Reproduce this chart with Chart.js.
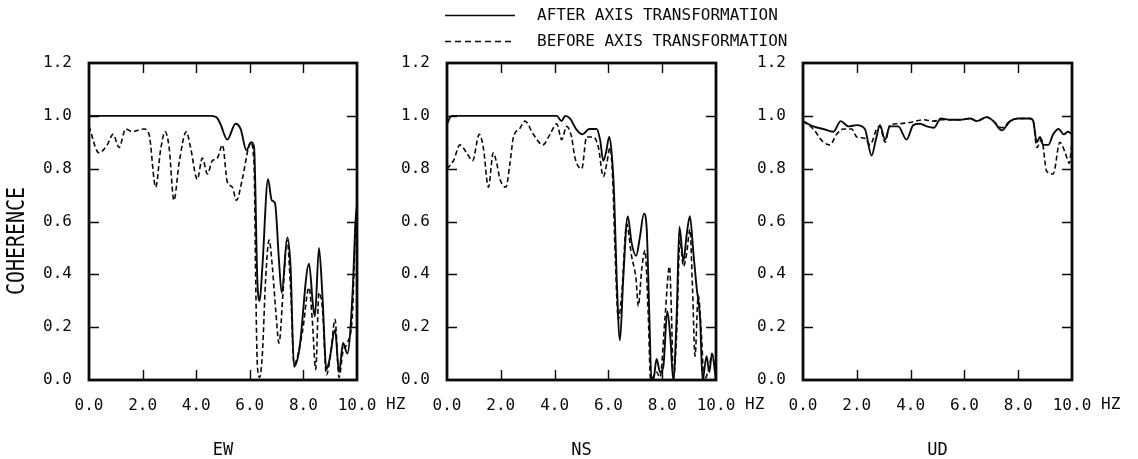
<!DOCTYPE html>
<html>
<head>
<meta charset="utf-8">
<script src="https://cdn.jsdelivr.net/npm/chart.js@4"></script>
<style>
  html, body { margin: 0; padding: 0; background: #fff; }
  #wrap { position: relative; width: 1138px; height: 459px; }
  #wrap canvas { position: absolute; left: 0; top: 0; }
</style>
</head>
<body>
<div id="wrap">
  <canvas id="c1" width="1138" height="459"></canvas>
  <canvas id="c2" width="1138" height="459"></canvas>
  <canvas id="c3" width="1138" height="459"></canvas>
</div>
<script>
// ---------- DATA ----------
const panelLabels = ['EW', 'NS', 'UD'];
const seriesLabels = ['AFTER AXIS TRANSFORMATION', 'BEFORE AXIS TRANSFORMATION'];
const xTickValues = [0, 2, 4, 6, 8, 10];
const yTickValues = [0, 0.2, 0.4, 0.6, 0.8, 1.0, 1.2];
const xUnit = 'HZ';
const yTitle = 'COHERENCE';

// EW
const ewAfterHz = [0, 0.5, 1, 2, 3, 4, 4.5, 4.75, 4.9, 5.16, 5.47, 5.66, 5.87, 6.06, 6.16, 6.28, 6.37, 6.47, 6.68, 6.82, 6.94, 7.09, 7.19, 7.4, 7.52, 7.65, 7.84, 8.21, 8.36, 8.43, 8.58, 8.71, 8.86, 8.98, 9.18, 9.33, 9.48, 9.64, 9.83, 9.95, 10];
const ewAfter   = [1, 1, 1, 1, 1, 1, 1, 0.995, 0.97, 0.91, 0.97, 0.95, 0.87, 0.90, 0.88, 0.38, 0.30, 0.43, 0.76, 0.68, 0.67, 0.45, 0.33, 0.54, 0.43, 0.05, 0.11, 0.44, 0.28, 0.24, 0.50, 0.32, 0.04, 0.08, 0.19, 0.03, 0.14, 0.10, 0.32, 0.61, 0.66];
const ewBeforeHz = [0, 0.37, 0.68, 0.9, 1.12, 1.37, 1.62, 2.05, 2.24, 2.49, 2.67, 2.84, 2.99, 3.17, 3.36, 3.63, 3.79, 4.04, 4.23, 4.42, 4.6, 4.79, 4.98, 5.16, 5.35, 5.5, 5.72, 5.95, 6.03, 6.16, 6.22, 6.28, 6.37, 6.47, 6.59, 6.72, 6.84, 6.97, 7.09, 7.24, 7.39, 7.52, 7.65, 7.96, 8.21, 8.33, 8.46, 8.58, 8.71, 8.86, 9.02, 9.18, 9.33, 9.48, 9.64, 9.83, 9.95, 10];
const ewBefore   = [0.96, 0.86, 0.89, 0.93, 0.88, 0.95, 0.94, 0.95, 0.93, 0.73, 0.87, 0.94, 0.88, 0.68, 0.82, 0.94, 0.88, 0.76, 0.84, 0.78, 0.83, 0.84, 0.89, 0.75, 0.73, 0.68, 0.76, 0.88, 0.90, 0.81, 0.38, 0.06, 0.01, 0.10, 0.38, 0.53, 0.43, 0.26, 0.14, 0.33, 0.53, 0.35, 0.06, 0.18, 0.35, 0.23, 0.04, 0.33, 0.27, 0.02, 0.10, 0.23, 0.01, 0.11, 0.14, 0.25, 0.59, 0.62];

// NS
const nsAfterHz = [0, 0.17, 1, 2, 3, 4.08, 4.26, 4.39, 4.57, 4.8, 5.04, 5.29, 5.56, 5.69, 5.81, 5.91, 6.03, 6.12, 6.21, 6.31, 6.43, 6.55, 6.72, 6.86, 7.03, 7.17, 7.32, 7.42, 7.52, 7.6, 7.67, 7.79, 7.92, 8.04, 8.19, 8.31, 8.41, 8.54, 8.64, 8.79, 8.91, 9.03, 9.16, 9.28, 9.41, 9.5, 9.65, 9.75, 9.85, 10];
const nsAfter   = [0.97, 1, 1, 1, 1, 1, 0.98, 1, 0.99, 0.95, 0.93, 0.95, 0.95, 0.91, 0.83, 0.86, 0.92, 0.86, 0.71, 0.38, 0.15, 0.38, 0.62, 0.52, 0.47, 0.54, 0.63, 0.58, 0.25, 0.0, 0.0, 0.08, 0.03, 0.05, 0.26, 0.15, 0.0, 0.25, 0.58, 0.45, 0.55, 0.62, 0.48, 0.35, 0.23, 0.0, 0.09, 0.03, 0.10, 0.0];
const nsBeforeHz = [0, 0.24, 0.48, 0.73, 0.95, 1.2, 1.35, 1.54, 1.72, 1.85, 1.97, 2.19, 2.34, 2.47, 2.69, 2.9, 3.21, 3.56, 3.83, 4.08, 4.26, 4.45, 4.63, 4.76, 5.01, 5.19, 5.44, 5.63, 5.81, 5.94, 6.06, 6.16, 6.25, 6.37, 6.49, 6.68, 6.86, 7.03, 7.11, 7.24, 7.36, 7.48, 7.57, 7.79, 7.92, 8.1, 8.27, 8.35, 8.41, 8.54, 8.66, 8.79, 8.91, 9.03, 9.13, 9.22, 9.34, 9.47, 9.55, 9.75, 9.85, 10];
const nsBefore   = [0.80, 0.83, 0.89, 0.86, 0.83, 0.93, 0.88, 0.73, 0.86, 0.82, 0.76, 0.73, 0.82, 0.92, 0.95, 0.98, 0.93, 0.89, 0.93, 0.97, 0.91, 0.96, 0.92, 0.84, 0.80, 0.92, 0.92, 0.88, 0.77, 0.82, 0.88, 0.76, 0.48, 0.23, 0.32, 0.59, 0.47, 0.38, 0.28, 0.42, 0.49, 0.25, 0.0, 0.03, 0.01, 0.23, 0.43, 0.23, 0.0, 0.18, 0.53, 0.43, 0.48, 0.57, 0.34, 0.09, 0.32, 0.15, 0.0, 0.05, 0.10, 0.0];

// UD
const udAfterHz = [0, 0.38, 0.76, 1.13, 1.4, 1.69, 2.0, 2.3, 2.55, 2.71, 2.86, 3.05, 3.23, 3.54, 3.85, 4.1, 4.35, 4.6, 4.87, 5.12, 5.46, 5.84, 6.21, 6.46, 6.83, 7.08, 7.39, 7.7, 8.0, 8.44, 8.56, 8.69, 8.81, 8.93, 9.12, 9.3, 9.5, 9.7, 9.85, 10];
const udAfter   = [0.98, 0.96, 0.95, 0.94, 0.98, 0.96, 0.965, 0.95, 0.85, 0.91, 0.965, 0.91, 0.96, 0.96, 0.91, 0.965, 0.97, 0.96, 0.955, 0.99, 0.985, 0.985, 0.99, 0.98, 0.995, 0.98, 0.945, 0.98, 0.99, 0.99, 0.98, 0.90, 0.92, 0.89, 0.89, 0.93, 0.95, 0.93, 0.94, 0.93];
const udBeforeHz = [0, 0.38, 0.76, 1.0, 1.25, 1.5, 1.81, 2.0, 2.3, 2.49, 2.74, 2.86, 3.05, 3.23, 3.54, 3.98, 4.47, 4.85, 5.15, 5.5, 5.84, 6.21, 6.46, 6.83, 7.08, 7.39, 7.7, 8.0, 8.44, 8.56, 8.69, 8.87, 9.06, 9.3, 9.55, 9.75, 9.9, 10];
const udBefore   = [0.98, 0.95, 0.90, 0.89, 0.93, 0.95, 0.95, 0.92, 0.915, 0.89, 0.95, 0.96, 0.90, 0.965, 0.97, 0.975, 0.985, 0.98, 0.985, 0.985, 0.985, 0.99, 0.98, 0.995, 0.98, 0.955, 0.98, 0.99, 0.99, 0.98, 0.88, 0.91, 0.79, 0.78, 0.90, 0.86, 0.82, 0.90];

// ---------- LAYOUT / STYLE ----------
const INK = '#0a0a0a';
const MONO = '"DejaVu Sans Mono", "Liberation Mono", monospace';
const panelBoxes = [
  { left: 89,  right: 357 },
  { left: 447, right: 716 },
  { left: 803, right: 1072 }
];
const PLOT_TOP = 63, PLOT_BOTTOM = 380, W = 1138, H = 459;
const Y_AXIS_W = 50, X_AXIS_H = 40;

function zip(xs, ys) { return xs.map((x, i) => ({ x: x, y: ys[i] })); }

const panelData = [
  [zip(ewAfterHz, ewAfter), zip(ewBeforeHz, ewBefore)],
  [zip(nsAfterHz, nsAfter), zip(nsBeforeHz, nsBefore)],
  [zip(udAfterHz, udAfter), zip(udBeforeHz, udBefore)]
];

const framePlugin = {
  id: 'frame',
  afterDraw(chart, args, opts) {
    const ctx = chart.ctx, a = chart.chartArea;
    const xs = chart.scales.x, ys = chart.scales.y;
    ctx.save();
    ctx.strokeStyle = INK;
    ctx.fillStyle = INK;
    // inward ticks
    ctx.lineWidth = 1.4;
    ctx.beginPath();
    xTickValues.slice(1, -1).forEach(v => {
      const px = Math.round(xs.getPixelForValue(v)) + 0.5;
      ctx.moveTo(px, a.bottom); ctx.lineTo(px, a.bottom - 10);
      ctx.moveTo(px, a.top); ctx.lineTo(px, a.top + 10);
    });
    yTickValues.slice(1, -1).forEach(v => {
      const py = Math.round(ys.getPixelForValue(v)) + 0.5;
      ctx.moveTo(a.left, py); ctx.lineTo(a.left + 10, py);
      ctx.moveTo(a.right, py); ctx.lineTo(a.right - 10, py);
    });
    ctx.stroke();
    // frame
    ctx.lineWidth = 2.8;
    ctx.strokeRect(a.left, a.top, a.right - a.left, a.bottom - a.top);
    // unit after last x tick
    ctx.font = '16px ' + MONO;
    ctx.textAlign = 'left';
    ctx.textBaseline = 'middle';
    ctx.fillText(xUnit, xs.getPixelForValue(xTickValues[xTickValues.length - 1]) + 29, a.bottom + 25);
    // panel label
    ctx.textAlign = 'center';
    ctx.font = '17px ' + MONO;
    ctx.fillText(opts.label, (a.left + a.right) / 2, 451);

    if (opts.extras) {
      // y title
      ctx.save();
      ctx.translate(18, 241);
      ctx.rotate(-Math.PI / 2);
      ctx.scale(0.83, 1);
      ctx.font = '24px ' + MONO;
      ctx.textAlign = 'center';
      ctx.textBaseline = 'middle';
      ctx.fillText(yTitle, 0, 0);
      ctx.restore();
      // legend
      ctx.font = '16px ' + MONO;
      ctx.textAlign = 'left';
      ctx.textBaseline = 'middle';
      ctx.lineWidth = 1.7;
      ctx.beginPath();
      ctx.moveTo(445, 15.5); ctx.lineTo(515, 15.5);
      ctx.stroke();
      ctx.setLineDash([6, 4]);
      ctx.beginPath();
      ctx.moveTo(445, 41.5); ctx.lineTo(515, 41.5);
      ctx.stroke();
      ctx.setLineDash([]);
      ctx.fillText(seriesLabels[0], 537, 16);
      ctx.fillText(seriesLabels[1], 537, 42);
    }
    ctx.restore();
  }
};

function makeChart(id, idx) {
  const box = panelBoxes[idx];
  const data = panelData[idx];
  return new Chart(document.getElementById(id), {
    type: 'line',
    data: {
      datasets: [
        { label: seriesLabels[0], data: data[0], borderColor: INK, borderWidth: 1.9,
          pointRadius: 0, cubicInterpolationMode: 'monotone', fill: false },
        { label: seriesLabels[1], data: data[1], borderColor: INK, borderWidth: 1.6,
          borderDash: [5, 3], pointRadius: 0, cubicInterpolationMode: 'monotone', fill: false }
      ]
    },
    options: {
      responsive: false,
      animation: false,
      devicePixelRatio: 1,
      layout: {
        padding: {
          left: box.left - Y_AXIS_W,
          right: W - box.right,
          top: PLOT_TOP,
          bottom: H - PLOT_BOTTOM - X_AXIS_H
        }
      },
      plugins: {
        legend: { display: false },
        tooltip: { enabled: false },
        frame: { label: panelLabels[idx], extras: idx === 0 }
      },
      scales: {
        x: {
          type: 'linear', min: 0, max: 10,
          afterFit(s) { s.height = X_AXIS_H; s.paddingLeft = 0; s.paddingRight = 0; },
          afterBuildTicks(s) { s.ticks = xTickValues.map(v => ({ value: v })); },
          grid: { display: false, drawTicks: false },
          border: { display: false },
          ticks: { padding: 16, maxRotation: 0, autoSkip: false, color: INK,
                   font: { family: MONO, size: 16 },
                   callback: v => Number(v).toFixed(1) }
        },
        y: {
          type: 'linear', min: 0, max: 1.2,
          afterFit(s) { s.width = Y_AXIS_W; s.paddingTop = 0; s.paddingBottom = 0; },
          afterBuildTicks(s) { s.ticks = yTickValues.map(v => ({ value: v })); },
          grid: { display: false, drawTicks: false },
          border: { display: false },
          ticks: { padding: 17, autoSkip: false, color: INK,
                   font: { family: MONO, size: 16 },
                   callback: v => Number(v).toFixed(1) }
        }
      }
    },
    plugins: [framePlugin]
  });
}

makeChart('c1', 0);
makeChart('c2', 1);
makeChart('c3', 2);
</script>
</body>
</html>
